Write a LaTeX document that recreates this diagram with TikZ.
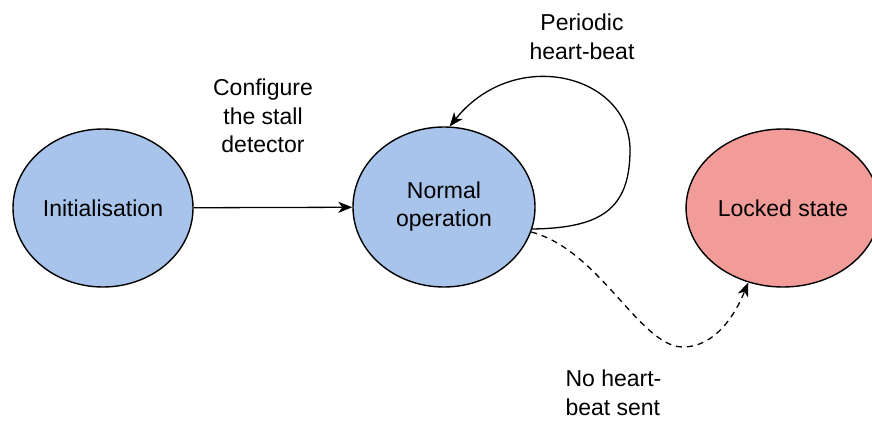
\documentclass[tikz,border=0pt]{standalone}
\usepackage{fontspec}
\setmainfont{Liberation Sans}
\usetikzlibrary{shapes.geometric,arrows.meta}

\definecolor{stateblue}{RGB}{169,196,235}
\definecolor{statered}{RGB}{241,156,153}

\begin{document}
\begin{tikzpicture}[x=1pt,y=-1pt,
  state/.style={ellipse,draw,line width=1.4pt,minimum width=180pt,minimum height=158pt,align=center,font=\fontsize{23}{28}\selectfont},
  note/.style={align=center,font=\fontsize{23}{28.5}\selectfont},
  trans/.style={line width=1.3pt,-{Stealth[length=14pt,width=11pt,inset=4pt]}}]

\useasboundingbox (0,0) rectangle (872,422);

% initialisation node
\node[state,fill=stateblue] (init) at (103,208) {Initialisation};

% normal operation node
\node[state,fill=stateblue,minimum width=182pt,minimum height=160pt] (normal) at (444,207) {Normal\\operation};

% locked state node
\node[state,fill=statered,minimum width=176pt] (locked) at (783,208) {Locked state};

% labels
\node[note] (configure) at (263,116) {Configure\\the stall\\detector};
\node[note] (heartbeat) at (582,37) {Periodic\\heart-beat};
\node[note,align=left,anchor=west] (no beat) at (562,393) {No heart-\\beat sent};

\draw[trans] (init) -- (normal);

% heart-beat loop
\draw[trans] (normal.-14) .. controls (600,228) and (630,210) .. (630,150)
  .. controls (630,75) and (515,45) .. (normal.86);

% no heart-beat
\draw[trans,dashed,dash pattern=on 6pt off 5pt] (normal.-16) .. controls (600,250) and (640,347) .. (683,347)
  .. controls (715,347) and (735,315) .. (locked.-115);

\end{tikzpicture}
\end{document}
